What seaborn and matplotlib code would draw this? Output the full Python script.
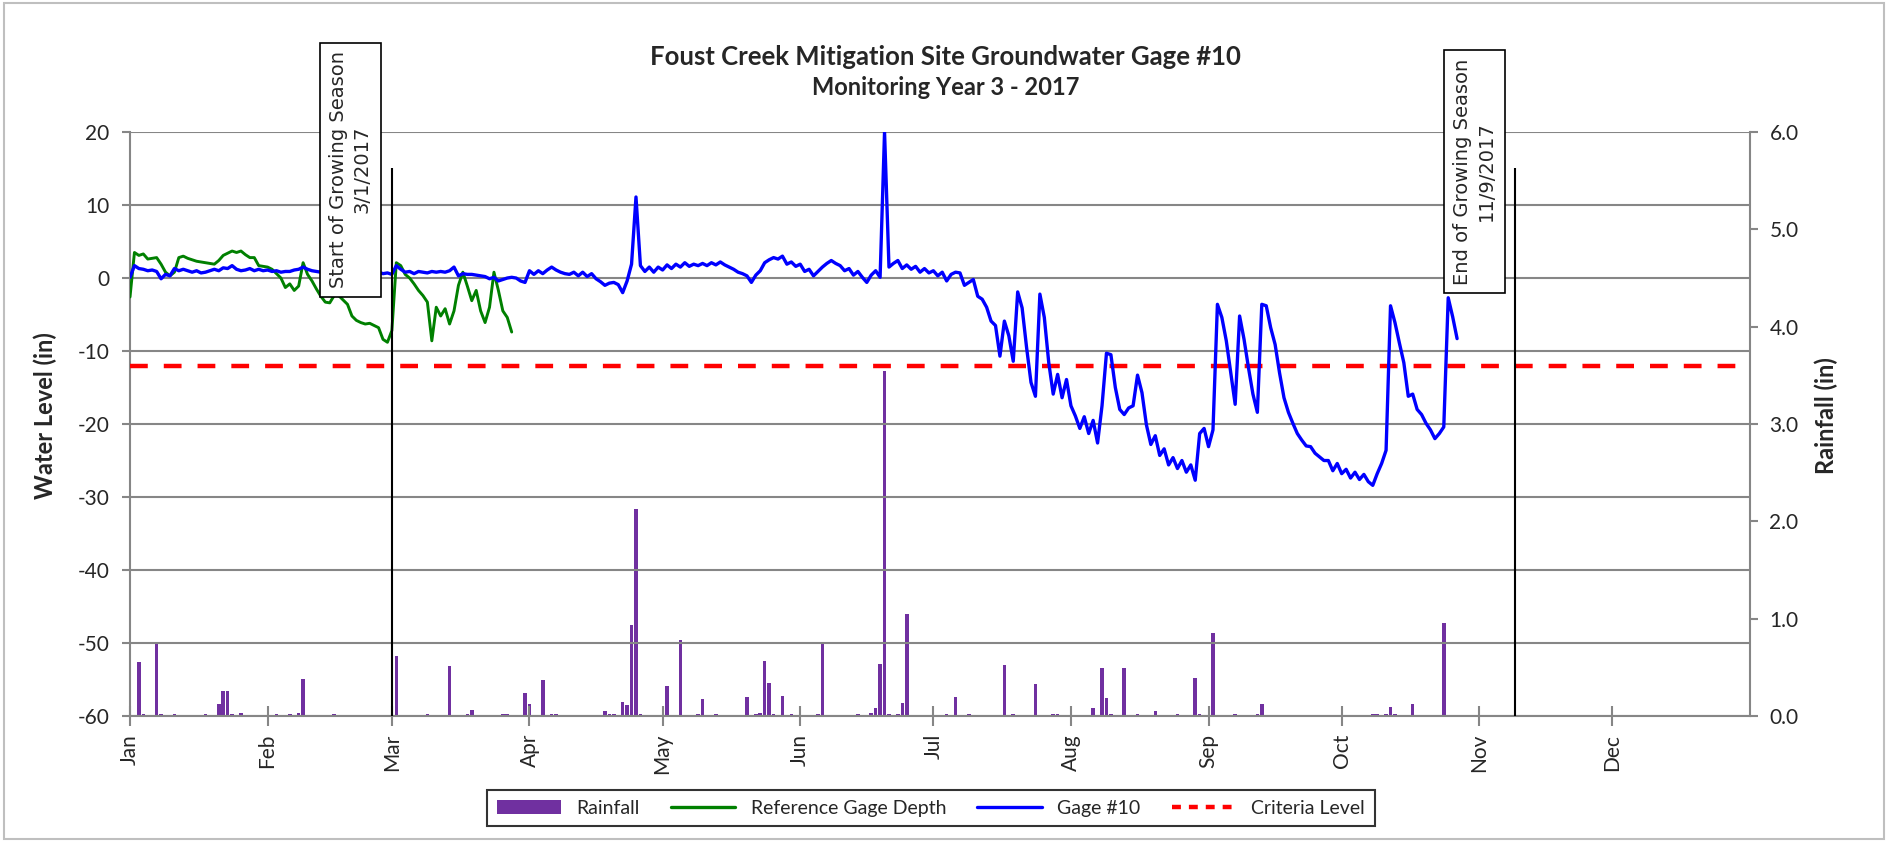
import pandas as pd
import matplotlib
matplotlib.use("Agg")
import matplotlib.pyplot as plt
import matplotlib.dates as mdates
from matplotlib.patches import Rectangle, Patch
from matplotlib.lines import Line2D
import seaborn as sns

# ---- data -------------------------------------------------------------
series_start = "2017-01-01"

# Daily groundwater level at Gage #10 (in), starting Jan 1
gage10_level = [
    0.1, 1.7, 1.3, 1.2, 1.0, 1.1, 0.9, -0.1, 0.5, 0.3,
    1.3, 1.0, 1.2, 1.0, 0.8, 1.0, 0.7, 0.8, 1.0, 1.2,
    1.0, 1.4, 1.3, 1.7, 1.2, 1.0, 1.1, 1.3, 1.0, 1.2,
    1.0, 1.1, 0.9, 1.0, 0.8, 0.9, 0.9, 1.1, 1.2, 1.5,
    1.2, 1.0, 0.9, 0.8, 0.9, 0.8, 0.9, 1.0, 0.8, 0.9,
    0.8, 0.9, 0.7, 0.8, 0.9, 0.8, 0.8, 0.6, 0.7, 0.5,
    1.7, 1.2, 0.8, 0.9, 0.6, 0.9, 0.8, 0.7, 0.9, 0.8,
    0.9, 0.8, 1.0, 1.5, 0.3, 0.6, 0.5, 0.5, 0.4, 0.3,
    0.2, -0.1, 0.1, -0.4, -0.2, 0.0, 0.1, 0.0, -0.4, -0.6,
    1.0, 0.5, 1.0, 0.6, 1.1, 1.5, 1.1, 0.8, 0.6, 0.5,
    0.8, 0.3, 0.8, 0.2, 0.6, -0.1, -0.5, -1.0, -0.7, -0.6,
    -0.9, -2.0, -0.4, 1.9, 11.1, 1.7, 0.9, 1.5, 0.8, 1.5,
    1.1, 1.8, 1.3, 1.9, 1.5, 2.1, 1.6, 1.9, 1.7, 2.0,
    1.7, 2.1, 1.8, 2.2, 1.8, 1.5, 1.2, 0.8, 0.6, 0.3,
    -0.6, 0.4, 1.0, 2.1, 2.5, 2.8, 2.6, 3.0, 1.9, 2.2,
    1.6, 1.9, 0.9, 1.2, 0.3, 0.9, 1.5, 2.0, 2.4, 2.0,
    1.7, 1.0, 1.3, 0.4, 0.9, 0.1, -0.6, 0.4, 1.0, 0.1,
    20.0, 1.5, 2.0, 2.4, 1.3, 1.8, 1.2, 1.6, 0.8, 1.3,
    0.7, 1.0, 0.3, 0.8, -0.4, 0.5, 0.8, 0.7, -1.0, -0.6,
    -0.2, -2.5, -2.9, -4.0, -5.9, -6.5, -10.7, -5.9, -7.9, -11.4,
    -1.9, -4.1, -9.5, -14.3, -16.2, -2.2, -5.4, -11.6, -15.9, -13.2,
    -16.4, -13.9, -17.5, -18.9, -20.6, -19.0, -21.3, -19.5, -22.6, -17.5,
    -10.3, -10.5, -15.0, -18.0, -18.7, -17.8, -17.5, -13.3, -15.7, -20.1,
    -22.8, -21.6, -24.3, -23.4, -25.6, -24.6, -26.1, -25.0, -26.6, -25.6,
    -27.7, -21.3, -20.6, -23.1, -20.8, -3.6, -5.4, -8.6, -13.0, -17.3,
    -5.2, -8.4, -12.3, -15.9, -18.4, -3.6, -3.8, -6.8, -9.1, -13.0,
    -16.4, -18.4, -19.9, -21.3, -22.2, -23.0, -23.1, -24.0, -24.5, -25.0,
    -25.0, -26.4, -25.4, -26.8, -26.2, -27.4, -26.6, -27.6, -26.9, -27.9,
    -28.4, -26.8, -25.4, -23.6, -3.8, -6.1, -8.9, -11.6, -16.2, -15.9,
    -18.0, -18.7, -19.9, -20.8, -22.0, -21.3, -20.4, -2.7, -5.3, -8.3,
]

# Daily reference gage depth (in), starting Jan 1
reference_level = [
    -2.6, 3.5, 3.1, 3.3, 2.6, 2.7, 2.8, 1.9, 0.8, 0.3,
    0.8, 2.8, 3.0, 2.7, 2.5, 2.3, 2.2, 2.1, 2.0, 1.9,
    2.4, 3.1, 3.4, 3.7, 3.5, 3.7, 3.2, 2.8, 2.8, 1.7,
    1.6, 1.5, 1.2, 0.6, 0.0, -1.3, -0.8, -1.7, -1.1, 2.1,
    0.5, -0.4, -1.5, -2.5, -3.3, -3.4, -2.4, -2.4, -3.0, -3.6,
    -5.2, -5.8, -6.1, -6.3, -6.2, -6.5, -6.8, -8.4, -8.8, -7.2,
    2.1, 1.7, 0.5, 0.0, -0.8, -1.7, -2.4, -3.3, -8.6, -4.0,
    -5.2, -4.2, -6.3, -4.5, -1.0, 0.8, -1.1, -3.1, -1.7, -4.5,
    -6.1, -4.0, 0.8, -1.7, -4.5, -5.4, -7.4,
]

# Daily rainfall (in)
rain_dates = [
    "2017-01-03", "2017-01-04", "2017-01-07", "2017-01-08", "2017-01-11",
    "2017-01-18", "2017-01-21", "2017-01-22", "2017-01-23", "2017-01-24",
    "2017-01-26", "2017-02-03", "2017-02-06", "2017-02-08", "2017-02-09",
    "2017-02-16", "2017-03-02", "2017-03-09", "2017-03-14", "2017-03-18",
    "2017-03-19", "2017-03-26", "2017-03-27", "2017-03-31", "2017-04-01",
    "2017-04-04", "2017-04-06", "2017-04-07", "2017-04-18", "2017-04-19",
    "2017-04-20", "2017-04-22", "2017-04-23", "2017-04-24", "2017-04-25",
    "2017-04-26", "2017-05-02", "2017-05-05", "2017-05-09", "2017-05-10",
    "2017-05-13", "2017-05-20", "2017-05-22", "2017-05-23", "2017-05-24",
    "2017-05-25", "2017-05-26", "2017-05-28", "2017-05-30", "2017-06-05",
    "2017-06-06", "2017-06-14", "2017-06-17", "2017-06-18", "2017-06-19",
    "2017-06-20", "2017-06-21", "2017-06-23", "2017-06-24", "2017-06-25",
    "2017-07-04", "2017-07-06", "2017-07-09", "2017-07-17", "2017-07-19",
    "2017-07-24", "2017-07-28", "2017-07-29", "2017-08-06", "2017-08-08",
    "2017-08-09", "2017-08-10", "2017-08-13", "2017-08-16", "2017-08-20",
    "2017-08-25", "2017-08-29", "2017-08-30", "2017-09-02", "2017-09-07",
    "2017-09-12", "2017-09-13", "2017-10-08", "2017-10-09", "2017-10-11",
    "2017-10-12", "2017-10-13", "2017-10-17", "2017-10-24",
]
rain_inches = [
    0.56, 0.02, 0.74, 0.02, 0.02,
    0.02, 0.12, 0.26, 0.26, 0.02,
    0.03, 0.02, 0.02, 0.03, 0.38,
    0.02, 0.62, 0.02, 0.51, 0.02,
    0.06, 0.02, 0.02, 0.24, 0.12,
    0.37, 0.02, 0.02, 0.05, 0.02,
    0.02, 0.14, 0.11, 0.94, 2.13,
    0.02, 0.31, 0.78, 0.02, 0.17,
    0.02, 0.20, 0.02, 0.03, 0.57,
    0.34, 0.02, 0.21, 0.02, 0.02,
    0.76, 0.02, 0.03, 0.08, 0.53,
    3.54, 0.02, 0.02, 0.13, 1.05,
    0.02, 0.20, 0.02, 0.52, 0.02,
    0.33, 0.02, 0.02, 0.08, 0.49,
    0.19, 0.02, 0.49, 0.02, 0.05,
    0.02, 0.39, 0.02, 0.85, 0.02,
    0.02, 0.12, 0.02, 0.02, 0.02,
    0.09, 0.02, 0.12, 0.96,
]

criteria_level = -12
season_start = "2017-03-01"
season_end = "2017-11-09"
month_labels = ["Jan", "Feb", "Mar", "Apr", "May", "Jun",
                "Jul", "Aug", "Sep", "Oct", "Nov", "Dec"]
level_ticks = [20, 10, 0, -10, -20, -30, -40, -50, -60]
rain_ticks = [0.0, 1.0, 2.0, 3.0, 4.0, 5.0, 6.0]

# ---- style ------------------------------------------------------------
sns.set_theme(style="white")
plt.rcParams["font.family"] = ["Lato", "DejaVu Sans"]

GRID = "#868686"
PURPLE = "#7030A0"
GREEN = "#008000"
BLUE = "#0000FF"
RED = "#FF0000"

gage_df = pd.DataFrame({
    "date": pd.date_range(series_start, periods=len(gage10_level), freq="D"),
    "level": gage10_level,
})
ref_df = pd.DataFrame({
    "date": pd.date_range(series_start, periods=len(reference_level), freq="D"),
    "level": reference_level,
})
rain_df = pd.DataFrame({"date": pd.to_datetime(rain_dates), "rain": rain_inches})

fig = plt.figure(figsize=(18.91, 8.41), dpi=100)
fig.patch.set_facecolor("white")
ax = fig.add_axes([0.06875, 0.1486, 0.8567, 0.6944])
ax2 = ax.twinx()
ax.set_zorder(ax2.get_zorder() + 1)
ax.patch.set_visible(False)

# rainfall bars on the secondary axis
ax2.bar(rain_df["date"], rain_df["rain"], width=0.8, color=PURPLE,
        linewidth=0, align="center")

# water level lines
sns.lineplot(data=ref_df, x="date", y="level", ax=ax, color=GREEN,
             linewidth=2.1, zorder=3)
sns.lineplot(data=gage_df, x="date", y="level", ax=ax, color=BLUE,
             linewidth=2.4, zorder=4)
ax.axhline(criteria_level, color=RED, linewidth=3.2,
           linestyle=(0, (4, 3.6)), zorder=3)

# growing season markers
ax.vlines([pd.Timestamp(season_start), pd.Timestamp(season_end)], -60, 15.1,
          color="black", linewidth=1.5, zorder=5)
box = dict(boxstyle="square,pad=0.45", fc="white", ec="black", lw=1.2)
ax.text(pd.Timestamp("2017-02-24 12:00"), -1.4, "Start of Growing Season\n3/1/2017",
        rotation=90, ha="right", va="bottom", multialignment="center",
        linespacing=1.35, fontsize=14, family="DejaVu Sans", bbox=box,
        clip_on=False, zorder=6)
ax.text(pd.Timestamp("2017-11-04 20:00"), -0.9, "End of Growing Season\n11/9/2017",
        rotation=90, ha="right", va="bottom", multialignment="center",
        linespacing=1.35, fontsize=14, family="DejaVu Sans", bbox=box,
        clip_on=False, zorder=6)

# x axis
ax.set_xlim(pd.Timestamp("2017-01-01"), pd.Timestamp("2018-01-01"))
month_starts = pd.date_range("2017-01-01", periods=12, freq="MS")
ax.set_xticks(mdates.date2num(month_starts))
ax.set_xticklabels(month_labels, rotation=90, fontsize=15)
ax.set_xlabel("")
ax.tick_params(axis="x", direction="inout", length=14, width=1.5,
               color=GRID, pad=6, bottom=True)

# left axis
ax.set_ylim(-60, 20)
ax.set_yticks(level_ticks)
ax.set_yticklabels([str(v) for v in level_ticks], fontsize=15)
ax.tick_params(axis="y", direction="out", length=6, width=1.5, color=GRID,
               pad=9, left=True)
ax.yaxis.grid(True, color=GRID, linewidth=1.5)
ax.xaxis.grid(False)
ax.set_ylabel("Water Level (in)", fontsize=17, fontweight="bold")
ax.yaxis.set_label_coords(-0.045, 0.514)

# right axis
ax2.set_ylim(0, 6)
ax2.set_yticks(rain_ticks)
ax2.set_yticklabels([f"{v:.1f}" for v in rain_ticks], fontsize=15)
ax2.tick_params(axis="y", direction="out", length=6, width=1.5, color=GRID,
                pad=8, right=True)
ax2.grid(False)
ax2.set_ylabel("Rainfall (in)", fontsize=17, fontweight="bold")
ax2.yaxis.set_label_coords(1.040, 0.514)

for name, sp in ax.spines.items():
    sp.set_color(GRID)
    sp.set_linewidth(1.5)
    sp.set_visible(name in ("left", "bottom"))
for name, sp in ax2.spines.items():
    sp.set_color(GRID)
    sp.set_linewidth(1.5)
    sp.set_visible(name == "right")

# titles
fig.text(0.5, 0.932, "Foust Creek Mitigation Site Groundwater Gage #10",
         ha="center", va="center", fontsize=18.5, fontweight="bold")
fig.text(0.5, 0.896, "Monitoring Year 3 - 2017",
         ha="center", va="center", fontsize=17, fontweight="bold")

# legend
handles = [
    Patch(facecolor=PURPLE, edgecolor="none"),
    Line2D([], [], color=GREEN, linewidth=2.4),
    Line2D([], [], color=BLUE, linewidth=2.4),
    Line2D([], [], color=RED, linewidth=3.2, linestyle=(0, (2, 1.8))),
]
labels = ["Rainfall", "Reference Gage Depth", "Gage #10", "Criteria Level"]
leg = fig.legend(handles, labels, loc="center", bbox_to_anchor=(0.4923, 0.039),
                 ncol=4, frameon=True, fancybox=False, edgecolor="black",
                 fontsize=14, handlelength=3.3, columnspacing=1.6,
                 borderpad=0.5)
leg.get_frame().set_linewidth(1.5)

# chart frame
fig.add_artist(Rectangle((4 / 1891, 2 / 841), 1880 / 1891, 836 / 841,
                         transform=fig.transFigure, fill=False,
                         edgecolor="#BFBFBF", linewidth=1.5))

fig.savefig("out.png", dpi=100, facecolor="white")
